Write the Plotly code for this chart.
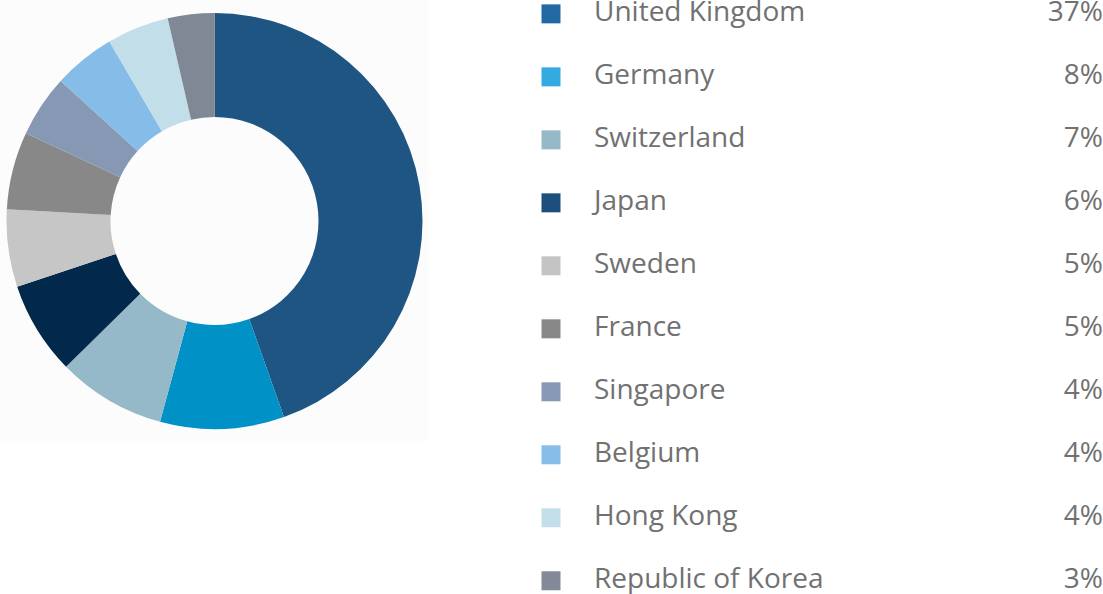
import plotly.graph_objects as go

countries = ["United Kingdom", "Germany", "Switzerland", "Japan", "Sweden",
             "France", "Singapore", "Belgium", "Hong Kong", "Republic of Korea"]
shares = [37, 8, 7, 6, 5, 5, 4, 4, 4, 3]
pct_labels = [str(v) + "%" for v in shares]

slice_colors = ["#1f5582", "#0091c6", "#95b9c8", "#02294c", "#c6c6c6",
                "#888888", "#8698b3", "#85bce8", "#c2dee9", "#808896"]
key_colors = ["#2268a4", "#33aae0", "#96b9c8", "#1e4e7c", "#c4c4c4",
              "#888888", "#8899b6", "#87bde9", "#c3dfe9", "#838996"]

W, H = 1103, 594
txt_font = dict(family="Open Sans", size=28, color="#717171")

fig = go.Figure()

# donut
fig.add_trace(go.Pie(
    labels=countries, values=shares, sort=False, direction="clockwise",
    hole=0.5, marker=dict(colors=slice_colors, line=dict(width=0)),
    textinfo="none", hoverinfo="label+percent", showlegend=False,
    domain=dict(x=[6 / W, 423 / W], y=[1 - 429 / H, 1 - 13 / H]),
))

# legend-ish rows on the right
fig.add_trace(go.Scatter(
    x=[551] * len(countries), y=countries, mode="markers",
    marker=dict(symbol="square", size=19, color=key_colors, line=dict(width=0)),
    xaxis="x", yaxis="y", showlegend=False, hoverinfo="skip",
))
fig.add_trace(go.Scatter(
    x=[594] * len(countries), y=countries, mode="text", text=countries,
    textposition="middle right", textfont=txt_font,
    xaxis="x", yaxis="y", showlegend=False, hoverinfo="skip",
))
fig.add_trace(go.Scatter(
    x=[1103] * len(countries), y=countries, mode="text", text=pct_labels,
    textposition="middle left", textfont=txt_font,
    xaxis="x", yaxis="y", showlegend=False, hoverinfo="skip",
))

fig.update_layout(
    width=W, height=H, margin=dict(l=0, r=0, t=0, b=0),
    paper_bgcolor="white", plot_bgcolor="rgba(0,0,0,0)",
    xaxis=dict(range=[0, W], domain=[0, 1], visible=False, fixedrange=True),
    yaxis=dict(type="category", categoryorder="array", categoryarray=countries,
               range=[9.21, -0.22], domain=[0, 1], visible=False, fixedrange=True),
    shapes=[dict(type="rect", xref="paper", yref="paper", x0=0, x1=428 / W,
                 y0=1 - 441 / H, y1=1, fillcolor="#fcfcfc", line=dict(width=0),
                 layer="below")],
)

# page body has a default margin, drop it so the figure fills the window
fig.write_html("out.html", config={"displayModeBar": False},
               post_script="document.body.style.margin='0';document.body.style.overflow='hidden';")
